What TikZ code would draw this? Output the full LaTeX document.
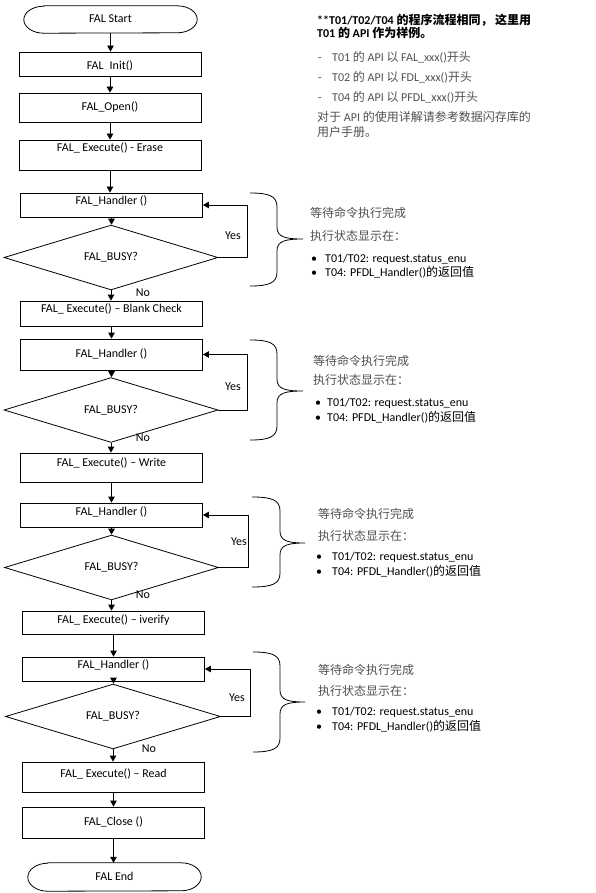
\documentclass[tikz,border=0pt]{standalone}
\usepackage{fontspec}
\setmainfont{Carlito}
\newfontfamily\cjk{Noto Sans CJK SC}
\usetikzlibrary{shapes.geometric,arrows.meta}
\definecolor{graytxt}{HTML}{505050}
\newcommand\termshape[2]{%
  \draw[line width=.8pt] ([xshift=20pt]#1.north west) -- ([xshift=-20pt]#1.north east)
    arc[start angle=90,end angle=-90,x radius=20pt,y radius=#2]
    -- ([xshift=20pt]#1.south west)
    arc[start angle=270,end angle=90,x radius=20pt,y radius=#2] -- cycle;}
\newcommand\curlybrace[6]{%
  \draw[line width=.8pt] (#1,#4) .. controls (#2-8,#4) and (#2,#4+3) .. (#2,#4+14)
    -- (#2,#5-12) .. controls (#2,#5-2) and (#2+8,#5) .. (#3,#5)
    .. controls (#2+8,#5) and (#2,#5+2) .. (#2,#5+12)
    -- (#2,#6-14) .. controls (#2,#6-3) and (#2-8,#6) .. (#1,#6);}
\begin{document}
\begin{tikzpicture}[x=1pt,y=-1pt,
  font=\fontsize{12}{14}\selectfont,
  box/.style={draw, line width=.8pt, minimum width=182pt, inner sep=0pt,
              text height=8.5pt, text depth=2.5pt},
  term/.style={minimum width=173pt, inner sep=0pt, text height=8.5pt, text depth=2.5pt},
  dia/.style={diamond, draw, line width=.8pt, inner sep=0pt, minimum width=214pt,
              text height=8.5pt, text depth=2.5pt},
  arr/.style={line width=.8pt, -{Triangle[length=6pt,width=6.5pt]}},
  lab/.style={inner sep=0pt, text height=8.5pt, text depth=2.5pt},
  note/.style={anchor=west, inner sep=0pt, text height=9pt, text depth=2.5pt},
  gnote/.style={note, text=graytxt},
]
\useasboundingbox (0,0) rectangle (595,893);

% ---------- flow chart ----------
\node[term, minimum height=27pt] (start) at (110.5,19.5) {FAL Start};
\termshape{start}{13.5pt}
\node[box, minimum height=24pt] (init) at (110,64) {};
\begin{scope}
  \clip (19,52) rectangle (201,69.8);
  \node[lab, anchor=base] (inittxt) at (110,69.6) {FAL\_Init()};
\end{scope}
\node[box, minimum height=29pt] (open) at (110,107.5) {FAL\_Open()};
\node[box, minimum height=30pt, text depth=14.5pt] (erase) at (110,155) {FAL\_ Execute() - Erase};

\node[box, minimum height=24pt, text depth=8.5pt] (h1) at (111.5,205) {FAL\_Handler ()};
\node[dia, minimum height=41pt] (d1) at (111,257.5) {FAL\_BUSY?};
\node[box, minimum height=25pt, text depth=11.5pt] (bc) at (111.5,313.5) {FAL\_ Execute() – Blank Check};

\node[box, minimum height=31pt] (h2) at (111.5,354.5) {FAL\_Handler ()};
\node[dia, minimum height=44pt] (d2) at (111,410) {FAL\_BUSY?};
\node[box, minimum height=29pt, text depth=11.5pt] (write) at (111.5,467.5) {FAL\_ Execute() – Write};

\node[box, minimum height=24pt, text depth=8.5pt] (h3) at (111.5,515) {FAL\_Handler ()};
\node[dia, minimum height=41pt] (d3) at (111.5,567.5) {FAL\_BUSY?};
\node[box, minimum height=23pt, text depth=7.5pt] (iverify) at (113.5,622.5) {FAL\_ Execute() – iverify};

\node[box, minimum height=24pt, text depth=10.5pt] (h4) at (113.5,669) {FAL\_Handler ()};
\node[dia, minimum height=53pt, minimum width=215pt] (d4) at (113,716.5) {FAL\_BUSY?};
\node[box, minimum height=30pt, text depth=8.5pt] (read) at (113.5,777) {FAL\_ Execute() – Read};
\node[box, minimum height=31pt] (close) at (113.5,822.5) {FAL\_Close ()};
\node[term, minimum height=28pt] (end) at (114.5,877) {FAL End};
\termshape{end}{14pt}

% arrows
\foreach \a/\b in {start/init, init/open, open/erase, erase/h1, h1/d1, d1/bc, bc/h2, h2/d2,
                   d2/write, write/h3, h3/d3, d3/iverify, iverify/h4, h4/d4, d4/read,
                   read/close, close/end}
  \draw[arr] (\a.south) -- (\a.south |- \b.north);

% loops
\draw[arr] (d1.east) -- ++(29,0) |- (h1.east);
\draw[arr] (d2.east) -- ++(29,0) |- (h2.east);
\draw[arr] (d3.east) -- ++(29,0) |- (h3.east);
\draw[arr] (d4.east) -- ++(29,0) |- (h4.east);

% yes / no labels
\node[lab] (y1) at (233,237) {Yes};
\node[lab] (y2) at (233,387) {Yes};
\node[lab] (y3) at (239,542) {Yes};
\node[lab] (y4) at (237,698) {Yes};
\node[lab] (n1) at (143,293) {No};
\node[lab] (n2) at (143,438) {No};
\node[lab] (n3) at (143,595) {No};
\node[lab] (n4) at (149,749) {No};

% ---------- braces ----------
\curlybrace{250}{277}{303}{193}{239}{286}
\curlybrace{250}{277}{303}{340}{391}{440}
\curlybrace{252}{280}{305}{497}{543}{587}
\curlybrace{253}{280}{305}{652}{702}{752}

% ---------- brace notes ----------
\node[gnote] (a1) at (310,214) {\cjk 等待命令执行完成};
\node[gnote] (a2) at (310,237) {\cjk 执行状态显示在：};
\node[note] (a3) at (311,259) {\makebox[14pt][l]{•}T01/T02: request.status\_enu};
\node[note] (a4) at (311,273) {\makebox[14pt][l]{•}T04: PFDL\_Handler(){\cjk 的返回值}};

\node[gnote] (b1) at (313,362) {\cjk 等待命令执行完成};
\node[gnote] (b2) at (313,381) {\cjk 执行状态显示在：};
\node[note] (b3) at (315,403) {\makebox[12pt][l]{•}T01/T02: request.status\_enu};
\node[note] (b4) at (315,418) {\makebox[12pt][l]{•}T04: PFDL\_Handler(){\cjk 的返回值}};

\node[gnote] (c1) at (318,515) {\cjk 等待命令执行完成};
\node[gnote] (c2) at (318,537) {\cjk 执行状态显示在：};
\node[note] (c3) at (316,557) {\makebox[16pt][l]{•}T01/T02: request.status\_enu};
\node[note] (c4) at (316,572) {\makebox[16pt][l]{•}T04: PFDL\_Handler(){\cjk 的返回值}};

\node[gnote] (e1) at (318,671) {\cjk 等待命令执行完成};
\node[gnote] (e2) at (318,692) {\cjk 执行状态显示在：};
\node[note] (e3) at (316,712) {\makebox[16pt][l]{•}T01/T02: request.status\_enu};
\node[note] (e4) at (316,727) {\makebox[16pt][l]{•}T04: PFDL\_Handler(){\cjk 的返回值}};

% ---------- top-right note ----------
\node[note, font=\fontsize{12}{14}\selectfont\bfseries] (t1) at (317,21) {**T01/T02/T04 {\cjk 的程序流程相同，} {\cjk 这里用}};
\node[note, font=\fontsize{12}{14}\selectfont\bfseries] (t2) at (317,34) {T01 {\cjk 的} API {\cjk 作为样例。}};
\node[gnote] (t3) at (318,58) {\makebox[14pt][l]{-}T01 {\cjk 的} API {\cjk 以} FAL\_xxx(){\cjk 开头}};
\node[gnote] (t4) at (318,78) {\makebox[14pt][l]{-}T02 {\cjk 的} API {\cjk 以} FDL\_xxx(){\cjk 开头}};
\node[gnote] (t5) at (318,98) {\makebox[14pt][l]{-}T04 {\cjk 的} API {\cjk 以} PFDL\_xxx(){\cjk 开头}};
\node[gnote] (t6) at (317,118) {{\cjk 对于} API {\cjk 的使用详解请参考数据闪存库的}};
\node[gnote] (t7) at (317,133) {\cjk 用户手册。};
\end{tikzpicture}
\end{document}
